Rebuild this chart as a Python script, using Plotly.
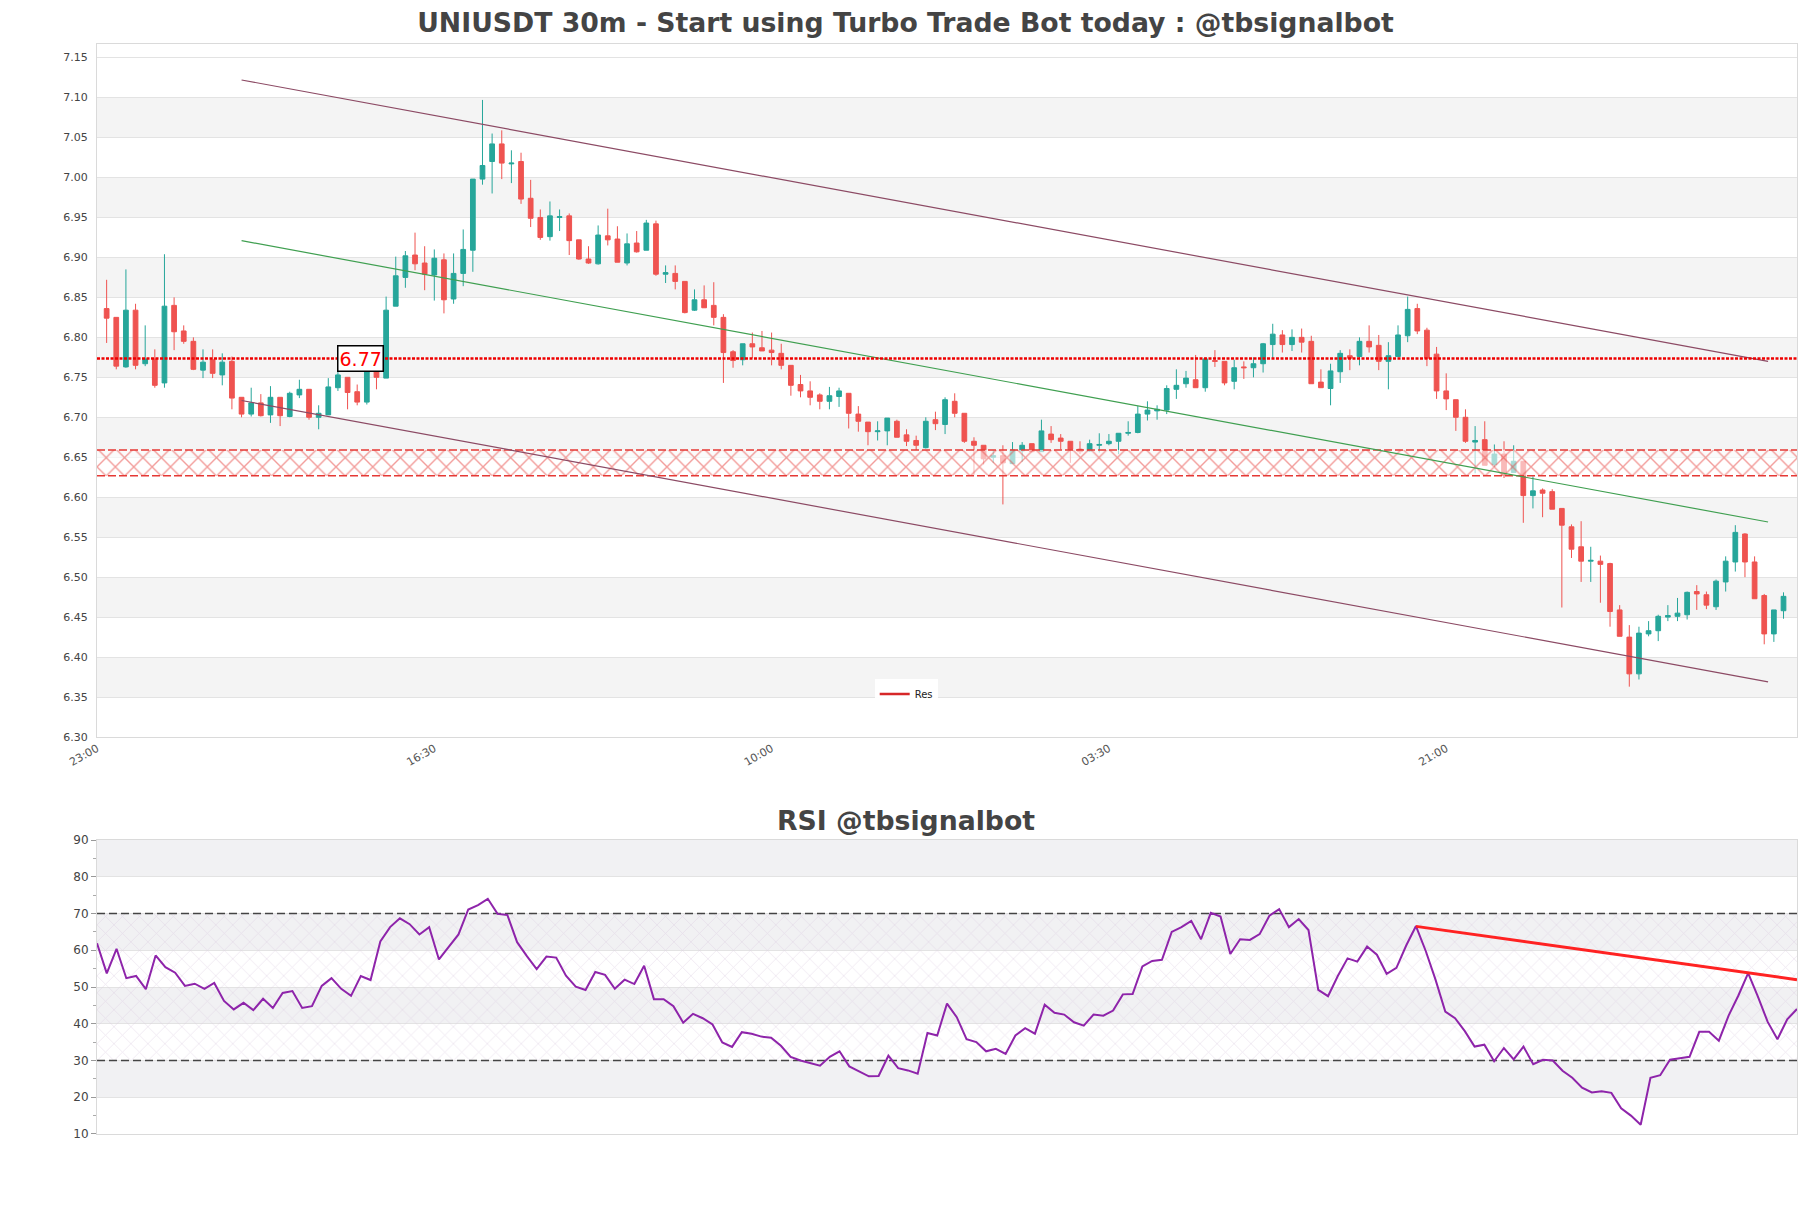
import plotly.graph_objects as go

# ---------------- data ----------------
opens = [6.836,6.825,6.763,6.834,6.767,6.773,6.743,6.840,6.808,6.795,6.759,6.772,6.753,6.770,6.725,6.704,6.718,6.703,6.725,6.701,
6.728,6.735,6.700,6.703,6.737,6.750,6.732,6.719,6.757,6.749,6.839,6.875,6.903,6.893,6.878,6.897,6.848,6.880,6.909,6.998,
7.020,7.042,7.017,7.020,6.974,6.950,6.926,6.950,6.952,6.922,6.898,6.892,6.927,6.923,6.893,6.918,6.909,6.942,6.879,6.880,
6.870,6.834,6.847,6.840,6.825,6.782,6.772,6.792,6.787,6.784,6.780,6.765,6.741,6.733,6.728,6.720,6.726,6.730,6.704,6.694,
6.682,6.683,6.695,6.678,6.671,6.662,6.697,6.691,6.720,6.705,6.670,6.665,6.650,6.652,6.642,6.658,6.667,6.657,6.679,6.674,
6.670,6.660,6.658,6.665,6.667,6.670,6.680,6.681,6.704,6.708,6.709,6.735,6.742,6.747,6.737,6.771,6.770,6.745,6.763,6.762,
6.767,6.791,6.803,6.791,6.800,6.795,6.744,6.736,6.757,6.777,6.776,6.795,6.790,6.770,6.776,6.802,6.836,6.809,6.779,6.733,
6.722,6.700,6.669,6.672,6.641,6.654,6.631,6.645,6.602,6.609,6.607,6.586,6.563,6.538,6.520,6.520,6.517,6.459,6.425,6.379,
6.429,6.433,6.450,6.451,6.453,6.482,6.478,6.463,6.494,6.519,6.554,6.519,6.477,6.429,6.458]
highs = [6.872,6.825,6.885,6.842,6.815,6.785,6.904,6.850,6.815,6.800,6.785,6.785,6.780,6.776,6.725,6.737,6.729,6.739,6.725,6.732,
6.747,6.735,6.715,6.749,6.764,6.750,6.741,6.763,6.763,6.851,6.901,6.908,6.931,6.914,6.910,6.905,6.905,6.935,6.998,7.097,
7.055,7.059,7.034,7.031,6.997,6.960,6.970,6.960,6.955,6.922,6.914,6.940,6.961,6.939,6.930,6.933,6.947,6.946,6.890,6.890,
6.870,6.860,6.865,6.869,6.829,6.784,6.792,6.806,6.808,6.806,6.792,6.765,6.753,6.745,6.730,6.738,6.737,6.730,6.714,6.694,
6.695,6.699,6.697,6.685,6.677,6.700,6.707,6.725,6.730,6.705,6.675,6.665,6.659,6.665,6.669,6.669,6.667,6.697,6.689,6.679,
6.670,6.670,6.672,6.680,6.679,6.680,6.695,6.714,6.720,6.715,6.740,6.760,6.758,6.778,6.775,6.784,6.770,6.772,6.770,6.775,
6.793,6.817,6.809,6.810,6.811,6.802,6.760,6.767,6.784,6.785,6.800,6.815,6.803,6.794,6.815,6.851,6.842,6.812,6.788,6.755,
6.722,6.710,6.689,6.695,6.666,6.670,6.665,6.645,6.626,6.611,6.610,6.586,6.566,6.570,6.538,6.527,6.518,6.465,6.440,6.438,
6.445,6.453,6.465,6.474,6.482,6.490,6.482,6.497,6.526,6.565,6.555,6.526,6.479,6.459,6.481]
lows = [6.793,6.760,6.762,6.760,6.764,6.737,6.737,6.784,6.792,6.759,6.749,6.749,6.740,6.710,6.700,6.701,6.701,6.693,6.689,6.700,
6.724,6.697,6.685,6.703,6.733,6.710,6.715,6.716,6.735,6.749,6.839,6.862,6.884,6.859,6.846,6.830,6.842,6.864,6.882,6.991,
6.980,6.998,6.993,6.967,6.938,6.922,6.921,6.933,6.903,6.897,6.892,6.891,6.915,6.894,6.890,6.906,6.909,6.877,6.868,6.860,
6.830,6.833,6.837,6.815,6.743,6.762,6.765,6.774,6.783,6.765,6.760,6.727,6.725,6.715,6.710,6.710,6.713,6.686,6.682,6.665,
6.671,6.665,6.675,6.664,6.659,6.661,6.684,6.679,6.700,6.668,6.628,6.641,6.643,6.591,6.642,6.644,6.656,6.657,6.668,6.660,
6.643,6.654,6.657,6.656,6.665,6.654,6.677,6.680,6.696,6.697,6.704,6.723,6.737,6.737,6.732,6.763,6.740,6.735,6.748,6.750,
6.756,6.773,6.781,6.783,6.781,6.742,6.737,6.715,6.743,6.759,6.765,6.781,6.759,6.735,6.776,6.794,6.804,6.764,6.723,6.709,
6.683,6.668,6.630,6.640,6.638,6.624,6.631,6.568,6.586,6.575,6.585,6.462,6.524,6.494,6.494,6.468,6.438,6.426,6.363,6.372,
6.426,6.420,6.445,6.445,6.447,6.459,6.460,6.459,6.482,6.507,6.500,6.473,6.416,6.419,6.448]
closes = [6.824,6.764,6.834,6.765,6.773,6.740,6.839,6.807,6.795,6.760,6.769,6.755,6.769,6.724,6.704,6.718,6.702,6.725,6.702,6.730,
6.735,6.700,6.705,6.738,6.753,6.731,6.719,6.757,6.750,6.834,6.877,6.902,6.892,6.879,6.899,6.847,6.880,6.910,6.998,7.015,
7.042,7.018,7.018,6.973,6.949,6.925,6.952,6.951,6.921,6.898,6.893,6.928,6.922,6.894,6.917,6.907,6.943,6.879,6.881,6.870,
6.831,6.847,6.837,6.825,6.781,6.771,6.792,6.788,6.783,6.781,6.765,6.740,6.733,6.725,6.720,6.727,6.733,6.705,6.695,6.682,
6.683,6.699,6.675,6.670,6.665,6.695,6.692,6.722,6.705,6.670,6.665,6.648,6.652,6.643,6.659,6.665,6.657,6.683,6.672,6.670,
6.660,6.657,6.667,6.666,6.670,6.680,6.681,6.704,6.709,6.710,6.736,6.740,6.749,6.737,6.773,6.770,6.743,6.762,6.762,6.767,
6.792,6.804,6.791,6.800,6.794,6.742,6.737,6.758,6.780,6.774,6.795,6.788,6.770,6.777,6.803,6.835,6.808,6.774,6.733,6.723,
6.700,6.670,6.671,6.640,6.654,6.628,6.645,6.602,6.608,6.605,6.585,6.565,6.535,6.520,6.521,6.516,6.457,6.426,6.379,6.430,
6.433,6.451,6.452,6.455,6.481,6.479,6.465,6.495,6.520,6.556,6.519,6.473,6.429,6.459,6.476]
candle_idx = list(range(1, len(closes) + 1))

rsi = [61.9,53.7,60.4,52.4,53.0,49.4,58.6,55.4,53.9,50.3,50.9,49.5,51.1,46.2,43.9,45.7,43.7,46.8,44.3,48.4,
48.9,44.3,44.8,50.3,52.4,49.5,47.6,53.0,51.9,62.4,66.3,68.7,67.1,64.3,66.3,57.5,60.9,64.3,71.1,72.3,
74.0,69.9,69.6,62.2,58.4,54.9,58.3,58.0,53.1,50.1,49.2,54.1,
53.3,49.5,52.0,50.8,55.8,46.7,46.7,44.8,40.3,42.7,41.5,39.8,34.9,33.7,37.7,37.3,36.5,36.2,34.0,31.0,
30.0,29.2,28.6,31.0,32.5,28.4,27.1,25.7,25.8,31.3,27.9,27.3,26.4,37.5,36.8,45.5,41.8,35.8,35.0,32.5,
33.2,31.8,36.8,38.8,37.3,45.2,43.0,42.5,40.4,39.5,42.5,42.2,43.6,48.0,48.1,55.6,57.1,57.4,65.0,66.3,
68.0,63.0,70.2,69.2,59.0,63.0,62.8,64.4,69.4,71.2,66.3,68.5,65.5,49.2,47.5,53.0,57.8,56.9,61.0,58.8,
53.6,55.2,61.3,66.6,59.8,52.0,43.3,41.5,38.0,33.8,34.3,29.8,33.4,30.3,33.8,29.0,30.2,30.0,27.2,25.3,
22.6,21.3,21.6,21.2,17.0,15.0,12.5,25.3,26.0,30.2,30.6,31.0,37.8,37.8,35.4,42.2,47.7,53.8,47.4,40.5,
35.8,41.2,44.0]
rsi_idx = list(range(len(rsi)))

# x tick labels (every 35 candles of 30m)
xtick_idx = [0, 35, 70, 105, 140]
xtick_text = ["23:00", "16:30", "10:00", "03:30", "21:00"]
price_ticks = [6.30, 6.35, 6.40, 6.45, 6.50, 6.55, 6.60, 6.65, 6.70, 6.75, 6.80, 6.85, 6.90, 6.95, 7.00, 7.05, 7.10, 7.15]
rsi_ticks = [10, 20, 30, 40, 50, 60, 70, 80, 90]

# channel lines (candle index, price)
channel_x = [15, 173.4]
channel_upper = [7.122, 6.770]
channel_mid = [6.921, 6.569]
channel_lower = [6.721, 6.369]

res_level = 6.7735
res_label = "6.77"
res_label_idx = 27.3
zone_low, zone_high = 6.627, 6.659

rsi_trend_x = [135, 174]
rsi_trend_y = [66.5, 52.0]
rsi_upper, rsi_lower = 70, 30

X_MAX = 176.4
GREEN = "#26a69a"
RED = "#ef5350"
FONT = "DejaVu Sans"
W, H = 1795, 1192

fig = go.Figure()

# background bands
shapes = []
for i in range(1, len(price_ticks) - 1, 2):
    shapes.append(dict(type="rect", xref="x domain", yref="y", x0=0, x1=1,
                       y0=price_ticks[i], y1=price_ticks[i + 1],
                       fillcolor="#f4f4f4", line_width=0, layer="below"))
for i in range(1, len(rsi_ticks) - 1, 2):
    shapes.append(dict(type="rect", xref="x2 domain", yref="y2", x0=0, x1=1,
                       y0=rsi_ticks[i], y1=rsi_ticks[i + 1],
                       fillcolor="#f1f1f3", line_width=0, layer="below"))

# support zone hatch
fig.add_trace(go.Scatter(x=[0, X_MAX, X_MAX, 0, 0], y=[zone_low, zone_low, zone_high, zone_high, zone_low],
                         fill="toself", mode="lines", line=dict(width=0), fillcolor="rgba(255,255,255,0.6)",
                         fillpattern=dict(shape="x", fgcolor="#e53935", bgcolor="rgba(255,255,255,0.6)", size=13, solidity=0.2),
                         showlegend=False, hoverinfo="skip", xaxis="x", yaxis="y"))
for lvl in (zone_low, zone_high):
    fig.add_trace(go.Scatter(x=[0, X_MAX], y=[lvl, lvl], mode="lines",
                             line=dict(color="#e53935", width=1.5, dash="8px,3px"),
                             showlegend=False, hoverinfo="skip", xaxis="x", yaxis="y"))

# channel lines
for ys, col in ((channel_upper, "#8c4a64"), (channel_lower, "#8c4a64"), (channel_mid, "#3f9f50")):
    fig.add_trace(go.Scatter(x=channel_x, y=ys, mode="lines", line=dict(color=col, width=1.2),
                             showlegend=False, hoverinfo="skip", xaxis="x", yaxis="y"))

# resistance line
fig.add_trace(go.Scatter(x=[0, X_MAX], y=[res_level, res_level], mode="lines",
                         line=dict(color="#ee0000", width=2.5, dash="3px,1.5px"),
                         showlegend=False, hoverinfo="skip", xaxis="x", yaxis="y"))

# candles
fig.add_trace(go.Candlestick(x=candle_idx, open=opens, high=highs, low=lows, close=closes,
                             increasing=dict(line=dict(color=GREEN, width=1), fillcolor=GREEN),
                             decreasing=dict(line=dict(color=RED, width=1), fillcolor=RED),
                             showlegend=False, xaxis="x", yaxis="y"))

# legend entry
fig.add_trace(go.Scatter(x=[None], y=[None], mode="lines", line=dict(color="#d62728", width=2.5),
                         name="Res", showlegend=True, xaxis="x", yaxis="y"))

# RSI hatch 30-70
fig.add_trace(go.Scatter(x=[0, rsi_idx[-1], rsi_idx[-1], 0, 0],
                         y=[rsi_lower, rsi_lower, rsi_upper, rsi_upper, rsi_lower],
                         fill="toself", mode="lines", line=dict(width=0), fillcolor="rgba(255,255,255,0)",
                         fillpattern=dict(shape="x", fgcolor="#d9c9e0", bgcolor="rgba(255,255,255,0)", size=12, solidity=0.12),
                         showlegend=False, hoverinfo="skip", xaxis="x2", yaxis="y2"))
for lvl in (rsi_upper, rsi_lower):
    fig.add_trace(go.Scatter(x=[0, rsi_idx[-1]], y=[lvl, lvl], mode="lines",
                             line=dict(color="#444444", width=1.3, dash="8px,4px"),
                             showlegend=False, hoverinfo="skip", xaxis="x2", yaxis="y2"))
fig.add_trace(go.Scatter(x=rsi_idx, y=rsi, mode="lines", line=dict(color="#8e24aa", width=2),
                         showlegend=False, xaxis="x2", yaxis="y2"))
fig.add_trace(go.Scatter(x=rsi_trend_x, y=rsi_trend_y, mode="lines", line=dict(color="#ff2222", width=3),
                         showlegend=False, xaxis="x2", yaxis="y2"))

fig.update_layout(
    width=W, height=H,
    margin=dict(l=89, r=6, t=36, b=66),
    paper_bgcolor="white", plot_bgcolor="white",
    font=dict(family=FONT, color="#444444"),
    title=dict(text="<b>UNIUSDT 30m - Start using Turbo Trade Bot today : @tbsignalbot</b>",
               x=0.5, xref="container", xanchor="center", y=1 - 15 / H, yanchor="middle",
               font=dict(family=FONT, size=26.7, color="#444444")),
    shapes=shapes,
    showlegend=True,
    legend=dict(x=0.476, y=0.4037, xanchor="center", yanchor="middle", bgcolor="rgba(255,255,255,0.95)",
                font=dict(size=10, color="#222"), itemwidth=30),
    xaxis=dict(domain=[0, 1], anchor="y", range=[0, X_MAX], tickvals=xtick_idx, ticktext=xtick_text,
               tickangle=-30, showgrid=False, zeroline=False, showline=True, mirror=True, linecolor="#dadada",
               ticks="", tickfont=dict(size=11, color="#555"), rangeslider=dict(visible=False)),
    yaxis=dict(domain=[0.3642, 1], anchor="x", range=[6.30, 7.167], tickvals=price_ticks,
               ticktext=["%.2f" % v for v in price_ticks], showgrid=True, gridcolor="#e3e3e3",
               zeroline=False, showline=True, mirror=True, linecolor="#dadada", ticks="",
               tickfont=dict(size=11, color="#444"), ticklabelstandoff=6),
    xaxis2=dict(domain=[0, 1], anchor="y2", range=[0, rsi_idx[-1]], showticklabels=False, showgrid=False,
                zeroline=False, showline=True, mirror=True, linecolor="#dadada", ticks=""),
    yaxis2=dict(domain=[0, 0.2697], anchor="x2", range=[10, 90], tickvals=rsi_ticks, showgrid=True,
                gridcolor="#e3e3e3", zeroline=False, showline=True, mirror=True, linecolor="#dadada",
                ticks="outside", ticklen=5, tickcolor="#999", tickfont=dict(size=12, color="#444"),
                minor=dict(dtick=5, ticks="outside", ticklen=3, tickcolor="#aaa", showgrid=False)),
    annotations=[
        dict(text="<b>RSI @tbsignalbot</b>", x=(897.5 - 89) / 1700, y=(1126 - 812) / 1090,
             xref="paper", yref="paper", xanchor="center", yanchor="middle", showarrow=False,
             font=dict(family=FONT, size=26.7, color="#444444")),
        dict(text=res_label, x=res_label_idx, y=res_level, xref="x", yref="y", showarrow=False,
             font=dict(family=FONT, size=19, color="#ff0000"), bgcolor="white",
             bordercolor="black", borderwidth=1.5, borderpad=1),
    ],
)

fig.write_html("out.html")
